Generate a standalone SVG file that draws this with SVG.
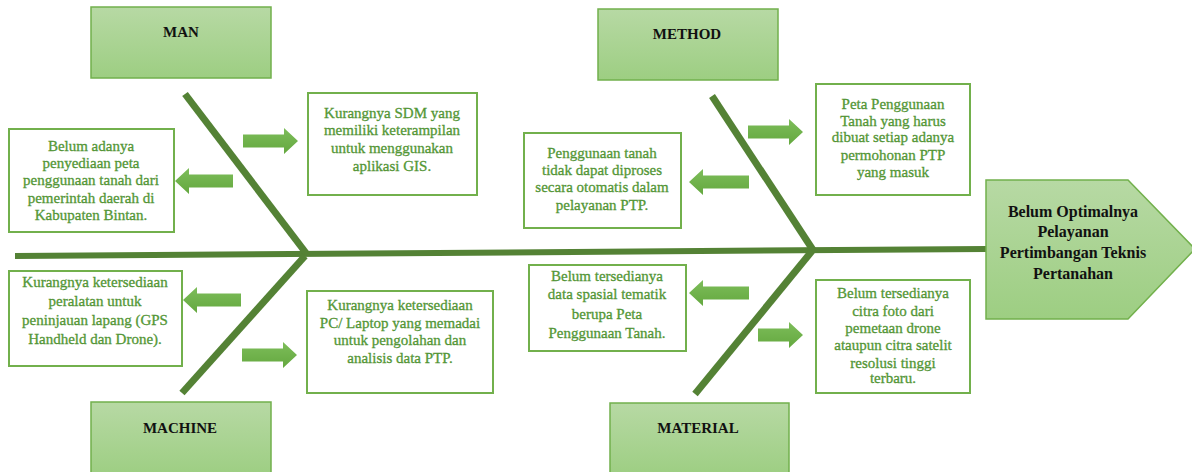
<svg xmlns="http://www.w3.org/2000/svg" width="1192" height="472" viewBox="0 0 1192 472" font-family="'Liberation Serif', 'Times New Roman', 'DejaVu Serif', serif">
<defs>
<linearGradient id="gcat" x1="0" y1="0" x2="0" y2="1">
<stop offset="0" stop-color="#b7d9a4"/>
<stop offset="1" stop-color="#9dce82"/>
</linearGradient>
<linearGradient id="garr" x1="0" y1="0" x2="0" y2="1">
<stop offset="0" stop-color="#7dbd5a"/>
<stop offset="1" stop-color="#64a83f"/>
</linearGradient>
<style>
.cat{fill:url(#gcat);stroke:#72b04c;stroke-width:1.5}
.box{fill:#fff;stroke:#72b04c;stroke-width:2}
text{font-family:'Liberation Serif','Times New Roman','DejaVu Serif',serif}
.lbl{font-weight:bold;font-size:15px;fill:#111;text-anchor:middle}
.eff{font-weight:bold;font-size:16px;fill:#111;text-anchor:middle}
.txt{font-size:15px;fill:#559c37;stroke:#4f8f32;stroke-width:0.3;text-anchor:middle}
.bone{stroke:#548235;stroke-width:7;fill:none}
.arr{fill:url(#garr)}
</style>
</defs>
<rect width="1192" height="472" fill="#fff"/>

<g id="connectors">
<line class="bone" x1="15" y1="256" x2="986" y2="249" style="stroke-width:6"/>
<line class="bone" x1="185" y1="94" x2="306" y2="253"/>
<line class="bone" x1="305" y1="256" x2="182" y2="393"/>
<line class="bone" x1="712" y1="96" x2="813" y2="250"/>
<line class="bone" x1="812" y1="251" x2="695" y2="394"/>
<polygon class="arr" points="243,134.5 284,134.5 284,128 298,141 284,154 284,147.5 243,147.5"/>
<polygon class="arr" points="748,125.5 789,125.5 789,119 803,132 789,145 789,138.5 748,138.5"/>
<polygon class="arr" points="242,348.5 283,348.5 283,342 297,355 283,368 283,361.5 242,361.5"/>
<polygon class="arr" points="758,328.5 789,328.5 789,322 803,335 789,348 789,341.5 758,341.5"/>
<polygon class="arr" points="175,181 189,168 189,174.5 233,174.5 233,187.5 189,187.5 189,194"/>
<polygon class="arr" points="689,182 703,169 703,175.5 749,175.5 749,188.5 703,188.5 703,195"/>
<polygon class="arr" points="183,300 197,287 197,293.5 241,293.5 241,306.5 197,306.5 197,313"/>
<polygon class="arr" points="689,293 703,280 703,286.5 749,286.5 749,299.5 703,299.5 703,306"/>
</g>

<g id="man">
<rect class="cat" x="91" y="7" width="180" height="71"/>
<text class="lbl" x="181" y="37">MAN</text>
</g>
<g id="method">
<rect class="cat" x="598" y="9" width="180" height="71"/>
<text class="lbl" x="687" y="39">METHOD</text>
</g>
<g id="machine">
<rect class="cat" x="91" y="402" width="180" height="74"/>
<text class="lbl" x="180" y="433">MACHINE</text>
</g>
<g id="material">
<rect class="cat" x="610" y="403" width="179" height="73"/>
<text class="lbl" x="698" y="433">MATERIAL</text>
</g>

<g id="effect">
<polygon class="cat" points="986,180 1128,180 1195,249 1128,319 986,319"/>
<text class="eff" x="1073" y="217">Belum Optimalnya</text>
<text class="eff" x="1073" y="237">Pelayanan</text>
<text class="eff" x="1073" y="258">Pertimbangan Teknis</text>
<text class="eff" x="1073" y="279">Pertanahan</text>
</g>

<g id="man-cause-1">
<rect class="box" x="9" y="129" width="165" height="103"/>
<text class="txt" x="91" y="151">Belum adanya</text>
<text class="txt" x="91" y="168">penyediaan peta</text>
<text class="txt" x="91" y="185">penggunaan tanah dari</text>
<text class="txt" x="91" y="203">pemerintah daerah di</text>
<text class="txt" x="91" y="220">Kabupaten Bintan.</text>
</g>
<g id="man-cause-2">
<rect class="box" x="308" y="93" width="169" height="102"/>
<text class="txt" x="392" y="118">Kurangnya SDM yang</text>
<text class="txt" x="392" y="135">memiliki keterampilan</text>
<text class="txt" x="392" y="153">untuk menggunakan</text>
<text class="txt" x="392" y="171">aplikasi GIS.</text>
</g>
<g id="method-cause-1">
<rect class="box" x="524" y="133" width="157" height="95"/>
<text class="txt" x="602" y="158">Penggunaan tanah</text>
<text class="txt" x="602" y="175">tidak dapat diproses</text>
<text class="txt" x="602" y="192">secara otomatis dalam</text>
<text class="txt" x="602" y="210">pelayanan PTP.</text>
</g>
<g id="method-cause-2">
<rect class="box" x="816" y="84" width="154" height="111"/>
<text class="txt" x="893" y="109">Peta Penggunaan</text>
<text class="txt" x="893" y="126">Tanah yang harus</text>
<text class="txt" x="893" y="142">dibuat setiap adanya</text>
<text class="txt" x="893" y="160">permohonan PTP</text>
<text class="txt" x="893" y="177">yang masuk</text>
</g>
<g id="machine-cause-1">
<rect class="box" x="9" y="271" width="173" height="95"/>
<text class="txt" x="95" y="287">Kurangnya ketersediaan</text>
<text class="txt" x="95" y="306">peralatan untuk</text>
<text class="txt" x="95" y="325">peninjauan lapang (GPS</text>
<text class="txt" x="95" y="344">Handheld dan Drone).</text>
</g>
<g id="machine-cause-2">
<rect class="box" x="307" y="291" width="186" height="102"/>
<text class="txt" x="400" y="310">Kurangnya ketersediaan</text>
<text class="txt" x="400" y="328">PC/ Laptop yang memadai</text>
<text class="txt" x="400" y="345">untuk pengolahan dan</text>
<text class="txt" x="400" y="363">analisis data PTP.</text>
</g>
<g id="material-cause-1">
<rect class="box" x="529" y="265" width="157" height="86"/>
<text class="txt" x="607" y="281">Belum tersedianya</text>
<text class="txt" x="607" y="299">data spasial tematik</text>
<text class="txt" x="607" y="319">berupa Peta</text>
<text class="txt" x="607" y="338">Penggunaan Tanah.</text>
</g>
<g id="material-cause-2">
<rect class="box" x="816" y="280" width="154" height="113"/>
<text class="txt" x="893" y="298">Belum tersedianya</text>
<text class="txt" x="893" y="316">citra foto dari</text>
<text class="txt" x="893" y="333">pemetaan drone</text>
<text class="txt" x="893" y="350">ataupun citra satelit</text>
<text class="txt" x="893" y="368">resolusi tinggi</text>
<text class="txt" x="893" y="383">terbaru.</text>
</g>
</svg>
